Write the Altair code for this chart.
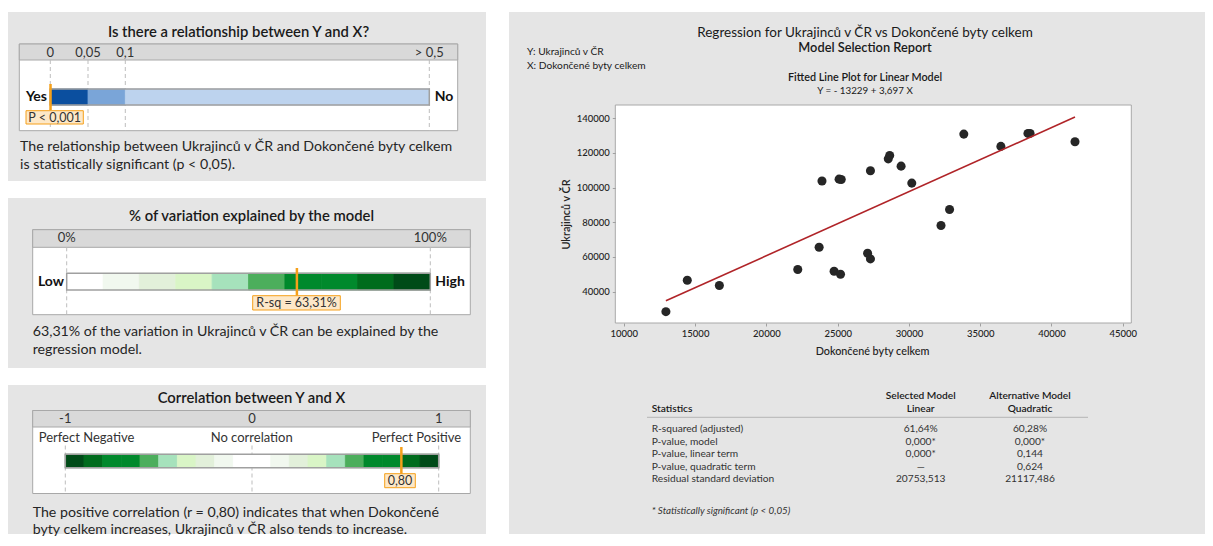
import altair as alt
import pandas as pd

FONT = "Lato"
PANEL_BG = "#e5e5e5"
HEADER_BG = "#d9d9d9"
BOX_STROKE = "#a8a8a8"
DASH = "#bdbdbd"
BAR_STROKE = "#a0a0a0"
ORANGE = "#f5a01a"
LABEL_FILL = "#fde8c8"
TXT = "#262626"

# ---------------- data ----------------
# Panel 1: p-value gauge
p_tick_vals = [0, 0.05, 0.1, 0.5]
p_tick_labels = ["0", "0,05", "0,1", "> 0,5"]
p_seg_lo = [0, 0.05, 0.1]
p_seg_hi = [0.05, 0.1, 0.5]
p_seg_colors = ["#0b4f9f", "#7aa5d8", "#bdd3ee"]
p_value = [0.0003]
p_label = "P < 0,001"

# Panel 2: R-squared gauge
rsq_tick_vals = [0, 1]
rsq_tick_labels = ["0%", "100%"]
rsq_seg_lo = [0.0, 0.1, 0.2, 0.3, 0.4, 0.5, 0.6, 0.7, 0.8, 0.9]
rsq_seg_hi = [0.1, 0.2, 0.3, 0.4, 0.5, 0.6, 0.7, 0.8, 0.9, 1.0]
rsq_seg_colors = ["#ffffff", "#f1f8ef", "#e2f0da", "#d9f5c6", "#a6e2bc",
                  "#4cae5c", "#00892c", "#00892c", "#006c1d", "#004b18"]
rsq_value = [0.6331]
rsq_label = "R-sq = 63,31%"

# Panel 3: correlation gauge
r_tick_vals = [-1, 0, 1]
r_tick_labels = ["-1", "0", "1"]
r_seg_lo = [-1.0, -0.9, -0.8, -0.7, -0.6, -0.5, -0.4, -0.3, -0.2, -0.1,
            0.0, 0.1, 0.2, 0.3, 0.4, 0.5, 0.6, 0.7, 0.8, 0.9]
r_seg_hi = [-0.9, -0.8, -0.7, -0.6, -0.5, -0.4, -0.3, -0.2, -0.1, 0.0,
            0.1, 0.2, 0.3, 0.4, 0.5, 0.6, 0.7, 0.8, 0.9, 1.0]
r_seg_colors = ["#004b18", "#006c1d", "#00892c", "#00892c", "#4cae5c",
                "#a6e2bc", "#d9f5c6", "#e2f0da", "#f1f8ef", "#ffffff",
                "#ffffff", "#f1f8ef", "#e2f0da", "#d9f5c6", "#a6e2bc",
                "#4cae5c", "#00892c", "#00892c", "#006c1d", "#004b18"]
r_value = [0.80]
r_label = "0,80"
r_cat_labels = ["Perfect Negative", "No correlation", "Perfect Positive"]

# Scatter
x_dokoncene = [12950, 14450, 16700, 22200, 23700, 23900, 24750, 25200, 25100, 25250,
               27300, 27100, 27300, 28550, 28650, 29450, 30200, 32250, 32850, 33850,
               36450, 38350, 38500, 41650]
y_ukrajincu = [28400, 46500, 43500, 52700, 65600, 103800, 51700, 50000, 104900, 104700,
               109700, 62100, 58850, 116600, 118600, 112400, 102600, 78150, 87400, 130900,
               123800, 131300, 131300, 126500]
fit_x = [12950, 41650]
fit_y = [34650, 140750]
x_ticks = [10000, 15000, 20000, 25000, 30000, 35000, 40000, 45000]
y_ticks = [40000, 60000, 80000, 100000, 120000, 140000]

# Table
stat_rows = ["R-squared (adjusted)", "P-value, model", "P-value, linear term",
             "P-value, quadratic term", "Residual standard deviation"]
linear_vals = ["61,64%", "0,000*", "0,000*", "\u2014", "20753,513"]
quad_vals = ["60,28%", "0,000*", "0,144", "0,624", "21117,486"]

ONE = pd.DataFrame({"a": [0]})


# ---------------- helpers ----------------
def T(text, x, y, size=13, weight="normal", align="left", color=TXT, style="normal"):
    return alt.Chart(pd.DataFrame({"t": [text]})).mark_text(
        align=align, baseline="middle", fontSize=size, fontWeight=weight,
        font=FONT, color=color, fontStyle=style
    ).encode(x=alt.value(x), y=alt.value(y), text="t:N")


def R(x1, x2, y1, y2, fill, stroke=None, sw=1):
    kw = dict(fill=fill)
    if stroke:
        kw.update(stroke=stroke, strokeWidth=sw)
    return alt.Chart(ONE).mark_rect(**kw).encode(
        x=alt.value(x1), x2=alt.value(x2), y=alt.value(y1), y2=alt.value(y2))


def gauge(scale, ticks, tick_labels, lo, hi, colors, value, tick_y, dash_y1, dash_y2,
          bar_y1, bar_y2, mark_y1, mark_y2):
    tdf = pd.DataFrame({"v": ticks, "lab": tick_labels})
    sdf = pd.DataFrame({"lo": lo, "hi": hi, "c": colors})
    X = lambda f: alt.X(f, scale=scale, axis=None)
    dashes = alt.Chart(tdf).mark_rule(strokeDash=[4, 3], color=DASH, strokeWidth=1).encode(
        x=X("v:Q"), y=alt.value(dash_y1), y2=alt.value(dash_y2))
    labels = alt.Chart(tdf).mark_text(fontSize=13, font=FONT, color="#333333",
                                      baseline="middle").encode(
        x=X("v:Q"), y=alt.value(tick_y), text="lab:N")
    segs = alt.Chart(sdf).mark_rect(strokeWidth=0.8).encode(
        x=X("lo:Q"), x2="hi:Q", y=alt.value(bar_y1), y2=alt.value(bar_y2),
        color=alt.Color("c:N", scale=None), stroke=alt.Stroke("c:N", scale=None))
    outline = alt.Chart(pd.DataFrame({"lo": [lo[0]], "hi": [hi[-1]]})).mark_rect(
        fill="transparent", stroke=BAR_STROKE, strokeWidth=1.5).encode(
        x=X("lo:Q"), x2="hi:Q", y=alt.value(bar_y1), y2=alt.value(bar_y2))
    marker = alt.Chart(pd.DataFrame({"v": value})).mark_rule(
        color=ORANGE, strokeWidth=2.5).encode(
        x=X("v:Q"), y=alt.value(mark_y1), y2=alt.value(mark_y2))
    return [dashes, labels, segs, outline, marker]


PW = 478
VIEW_BG = alt.ViewBackground(fill=PANEL_BG, stroke=None)
TS = 14.8   # panel title size
DS = 14.2   # description size

# ---------------- panel 1 ----------------
s1 = alt.Scale(domain=p_tick_vals, range=[42.3, 80, 117.3, 421.3])
p1 = alt.layer(
    T("Is there a relationship between Y and X?", 230.5, 20.7, TS, 600, "center", "#1a1a1a"),
    R(11.3, 449.7, 32, 118.7, "#ffffff", BOX_STROKE),
    R(11.3, 449.7, 32, 48, HEADER_BG, BOX_STROKE),
    *gauge(s1, p_tick_vals, p_tick_labels, p_seg_lo, p_seg_hi, p_seg_colors, p_value,
           41.0, 48, 118.7, 77, 93, 72, 98),
    T("Yes", 39, 84.5, 14, "bold", "right", "#111111"),
    T("No", 426.7, 84.5, 14, "bold", "left", "#111111"),
    R(18, 75.3, 98.7, 112, LABEL_FILL, ORANGE),
    T(p_label, 46.7, 105.5, 12.5, "normal", "center", "#333333"),
    T("The relationship between Ukrajinců v ČR and Dokončené byty celkem", 12, 135.3, DS),
    T("is statistically significant (p < 0,05).", 12, 153, DS),
).properties(width=PW, height=169, view=VIEW_BG)

# ---------------- panel 2 ----------------
s2 = alt.Scale(domain=[0, 1], range=[58.7, 422.3])
p2 = alt.layer(
    T("% of variation explained by the model", 243.5, 18.7, TS, 600, "center", "#1a1a1a"),
    R(24.7, 462.3, 31.7, 116.7, "#ffffff", BOX_STROKE),
    R(24.7, 462.3, 31.7, 49.3, HEADER_BG, BOX_STROKE),
    *gauge(s2, rsq_tick_vals, rsq_tick_labels, rsq_seg_lo, rsq_seg_hi, rsq_seg_colors,
           rsq_value, 40.3, 49.3, 116.7, 75.3, 92, 70, 97.7),
    T("Low", 56, 83.7, 14, "bold", "right", "#111111"),
    T("High", 427.3, 83.7, 14, "bold", "left", "#111111"),
    R(244.7, 332.3, 97.7, 112, LABEL_FILL, ORANGE),
    T(rsq_label, 288.5, 104.8, 12.5, "normal", "center", "#333333"),
    T("63,31% of the variation in Ukrajinců v ČR can be explained by the", 24.7, 134.3, DS),
    T("regression model.", 24.7, 151.7, DS),
).properties(width=PW, height=170, view=VIEW_BG)

# ---------------- panel 3 ----------------
s3 = alt.Scale(domain=[-1, 1], range=[57.3, 430.7])
p3 = alt.layer(
    T("Correlation between Y and X", 243.5, 13.5, TS, 600, "center", "#1a1a1a"),
    R(24.7, 462.3, 25.5, 108.5, "#ffffff", BOX_STROKE),
    R(24.7, 462.3, 25.5, 42, HEADER_BG, BOX_STROKE),
    *gauge(s3, r_tick_vals, r_tick_labels, r_seg_lo, r_seg_hi, r_seg_colors, r_value,
           34.3, 60.5, 108.5, 69.3, 82.7, 62, 89.3),
    T(r_cat_labels[0], 78.5, 52.5, 13, "normal", "center", "#333333"),
    T(r_cat_labels[1], 243.7, 52.5, 13, "normal", "center", "#333333"),
    T(r_cat_labels[2], 408.5, 52.5, 13, "normal", "center", "#333333"),
    R(376.7, 407.3, 88.7, 102.7, LABEL_FILL, ORANGE),
    T(r_label, 392, 95.7, 12.5, "normal", "center", "#333333"),
    T("The positive correlation (r = 0,80) indicates that when Dokončené", 24.7, 127.5, DS),
    T("byty celkem increases, Ukrajinců v ČR also tends to increase.", 24.7, 144.5, DS),
).properties(width=PW, height=149, view=VIEW_BG)

left = alt.vconcat(p1, p2, p3, spacing=17)

# ---------------- right panel ----------------
RW, RH = 696, 522
FX1, FX2, FY1, FY2 = 106.3, 622.3, 93, 311   # plot frame inside the panel
xs = alt.Scale(domain=[9400, 45600], nice=False, zero=False, range=[FX1, FX2])
ys = alt.Scale(domain=[21850, 147700], nice=False, zero=False, range=[FY2, FY1])
xaxis = alt.Axis(values=x_ticks, format="d", title="Dokončené byty celkem", zindex=1,
                 offset=-(RH - FY2), domain=False, grid=False, tickSize=3,
                 tickColor="#a0a0a0", labelPadding=2, labelFont=FONT, labelFontSize=9.5,
                 labelColor="#222222", labelFontWeight=500, titleFont=FONT,
                 titleFontSize=10.8, titleFontWeight=500, titleColor="#222222",
                 titleX=363, titleY=28.3, titleBaseline="middle", titleAlign="center")
yaxis = alt.Axis(values=y_ticks, format="d", title="Ukrajinců v ČR", zindex=1,
                 offset=-FX1, domain=False, grid=False, tickSize=3, tickColor="#a0a0a0",
                 labelPadding=3, labelFont=FONT, labelFontSize=9.5, labelColor="#222222",
                 labelFontWeight=500, titleFont=FONT, titleFontSize=10.8,
                 titleFontWeight=600, titleColor="#222222", titleX=-49.3,
                 titleY=(FY1 + FY2) / 2, titleAngle=270, titleBaseline="middle",
                 titleAlign="center")

pts = alt.Chart(pd.DataFrame({"x": x_dokoncene, "y": y_ukrajincu})).mark_circle(
    size=82, color="#262626", opacity=1).encode(
    x=alt.X("x:Q", scale=xs, axis=xaxis), y=alt.Y("y:Q", scale=ys, axis=yaxis))
fit = alt.Chart(pd.DataFrame({"x": fit_x, "y": fit_y})).mark_line(
    color="#b02428", strokeWidth=1.6).encode(
    x=alt.X("x:Q", scale=xs), y=alt.Y("y:Q", scale=ys))

RT = "#1a1a1a"
TCX1, TCX2, TLX = 411.7, 521, 142.7
table_layers = [
    T("Selected Model", TCX1, 384, 10.2, 600, "center", RT),
    T("Linear", TCX1, 397.3, 10.2, 600, "center", RT),
    T("Alternative Model", TCX2, 384, 10.2, 600, "center", RT),
    T("Quadratic", TCX2, 397.3, 10.2, 600, "center", RT),
    T("Statistics", TLX, 397.3, 10.2, 600, "left", RT),
    alt.Chart(ONE).mark_rule(color="#b5b5b5", strokeWidth=1).encode(
        x=alt.value(138), x2=alt.value(579), y=alt.value(405.3)),
]
row_y = [417.3, 429.5, 442, 454.7, 467.3]
for lab, a, b, yy in zip(stat_rows, linear_vals, quad_vals, row_y):
    table_layers.append(T(lab, TLX, yy, 10.2, "normal", "left", "#333333"))
    table_layers.append(T(a, TCX1, yy, 10.2, "normal", "center", "#333333"))
    table_layers.append(T(b, TCX2, yy, 10.2, "normal", "center", "#333333"))
table_layers.append(T("* Statistically significant (p < 0,05)", TLX, 498.7, 9.8,
                      "normal", "left", "#333333", "italic"))

right = alt.layer(
    R(FX1, FX2, FY1, FY2, "#ffffff", "#a8a8a8"),
    pts,
    fit,
    T("Regression for Ukrajinců v ČR vs Dokončené byty celkem", 356, 21, 13.5,
      "normal", "center", RT),
    T("Model Selection Report", 356, 36, 12.8, 600, "center", RT),
    T("Y: Ukrajinců v ČR", 18, 40, 10.2, "normal", "left", RT),
    T("X: Dokončené byty celkem", 18, 54, 10.2, "normal", "left", RT),
    T("Fitted Line Plot for Linear Model", 356, 66, 10.8, 600, "center", RT),
    T("Y = - 13229 + 3,697 X", 356, 79, 9.8, "normal", "center", RT),
    *table_layers,
).properties(width=RW, height=RH, view=VIEW_BG)

chart = alt.hconcat(left, right, spacing=23).properties(
    padding={"left": 0, "top": 4, "right": 0, "bottom": 0}
).configure_view(stroke=None).configure(font=FONT)

chart.save("out.html", embed_options={"renderer": "svg", "actions": False})
